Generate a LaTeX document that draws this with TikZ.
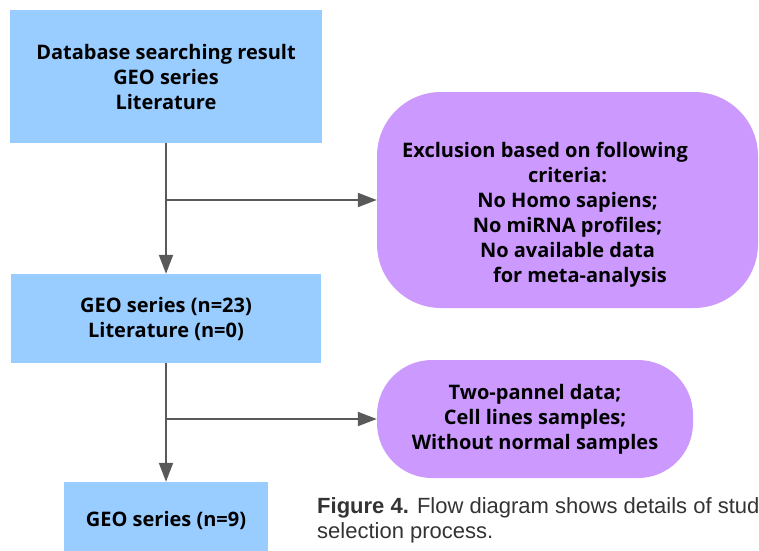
\documentclass[tikz,border=0pt]{standalone}
\usepackage{fontspec}
\setmainfont{Open Sans}
\newfontfamily\captionfont{Liberation Sans}
\usepackage{tikz}
\usetikzlibrary{arrows.meta, positioning, calc}
\definecolor{boxblue}{RGB}{153,204,255}
\definecolor{boxpurple}{RGB}{204,153,255}
\definecolor{linegray}{RGB}{89,89,89}
\definecolor{captiongray}{RGB}{51,51,51}
\tikzset{block/.style={rectangle,fill=boxblue,align=center,font=\fontsize{20}{25}\selectfont\bfseries},
         excludebox/.style={rectangle,fill=boxpurple,align=center,font=\fontsize{20}{25}\selectfont\bfseries},
         boxtext/.style={align=center,font=\fontsize{20}{25}\selectfont\bfseries},
         captiontext/.style={align=left,text=captiongray,font=\captionfont\fontsize{22}{25}\selectfont},
         arrow/.style={-{Triangle[length=19pt,width=14pt]},line width=2pt,draw=linegray}}

\begin{document}
\begin{tikzpicture}[x=1pt,y=-1pt]
    \useasboundingbox (0,0) rectangle (759,550);
    % Blue boxes
    \node (db) [block, minimum width=312pt, minimum height=133pt] at (166,76.5) {Database searching result\\GEO series\\Literature};
    \node (geo23) [block, minimum width=310pt, minimum height=89pt] at (166,318.5) {GEO series (n=23)\\Literature (n=0)};
    \node (geo9) [block, minimum width=204pt, minimum height=76pt] at (166,520) {GEO series (n=9)};
    % Exclusion boxes
    \node (excl) [excludebox, rounded corners=64pt, minimum width=381pt, minimum height=216pt] at (567.5,200) {};
    \node (excltext) [boxtext] at ($(excl.center)+(0,15)$) {Exclusion based on following\hspace*{45pt}\\criteria:\hspace*{39pt}\\No Homo sapiens;\\No miRNA profiles;\\No available data\\\hspace*{25pt}for meta-analysis};
    \node (excl2) [excludebox, rounded corners=55pt, minimum width=316pt, minimum height=118pt] at (535,419) {Two-pannel data;\\Cell lines samples;\\Without normal samples};
    % Arrows
    \draw[arrow] (db) -- (geo23);
    \draw[arrow] (db.south |- excl.west) -- (excl.west);
    \draw[arrow] (geo23) -- (geo9);
    \draw[arrow] (geo23.south |- excl2.west) -- (excl2.west);
    % Caption
    \node (caption) [captiontext, anchor=north west, inner sep=0pt] at (317,497) {\textbf{Figure 4.} Flow diagram shows details of study\\selection process.};
\end{tikzpicture}
\end{document}
